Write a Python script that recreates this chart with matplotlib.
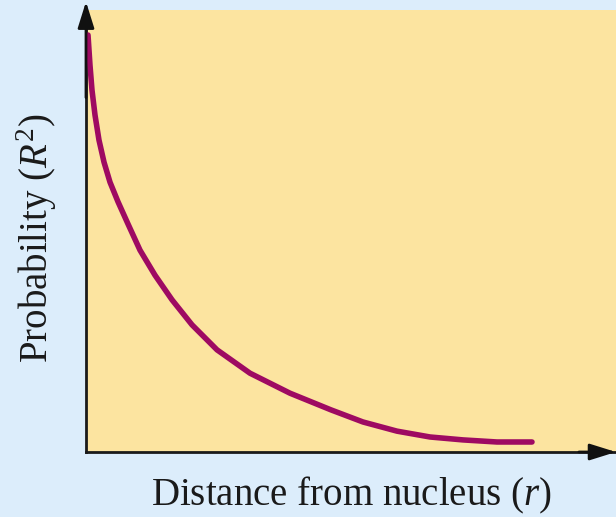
import matplotlib
matplotlib.use("Agg")
import matplotlib.pyplot as plt

distance = [0.038, 0.075, 0.113, 0.170, 0.245, 0.340, 0.453, 0.604, 0.792, 1.019,
            1.302, 1.623, 2.000, 2.472, 3.094, 3.849, 4.623, 5.226, 5.868, 6.491,
            7.113, 7.755, 8.415]
probability = [1.000, 0.928, 0.868, 0.808, 0.748, 0.695, 0.647, 0.600, 0.547, 0.484,
               0.424, 0.365, 0.305, 0.245, 0.189, 0.141, 0.101, 0.072, 0.050, 0.036,
               0.029, 0.024, 0.024]

x_label = "Distance from nucleus ($r$)"
y_label = "Probability ($R^2$)"

plt.rcParams["mathtext.fontset"] = "custom"
plt.rcParams["mathtext.rm"] = "Liberation Serif"
plt.rcParams["mathtext.it"] = "Liberation Serif:italic"

fig = plt.figure(figsize=(6.16, 5.17), dpi=100)
fig.patch.set_facecolor("#DCEDFB")

ax = fig.add_axes([86 / 616, 65 / 517, 530 / 616, 442 / 517])
ax.set_facecolor("#FCE4A0")
ax.set_xlim(0, 10)
ax.set_ylim(0, 1.06)

ax.plot(distance, probability, color="#9E0A62", lw=4.0,
        solid_capstyle="round", solid_joinstyle="round", zorder=3)

for side in ("top", "right"):
    ax.spines[side].set_visible(False)
for side in ("left", "bottom"):
    ax.spines[side].set_color("#1a1a1a")
    ax.spines[side].set_linewidth(2.0)
ax.set_xticks([])
ax.set_yticks([])

# Arrowheads at the ends of both axes
arrow = dict(arrowstyle="-|>,head_length=1.6,head_width=0.5", color="#111111",
             lw=2.0, shrinkA=0, shrinkB=0)
ax.annotate("", xy=(0, 1.08), xytext=(0, 0.85), xycoords="data",
            arrowprops=arrow, annotation_clip=False)
ax.annotate("", xy=(10.0, 0), xytext=(9.3, 0), xycoords="data",
            arrowprops=arrow, annotation_clip=False)

fig.text(351 / 616, 1 - 505 / 517, x_label, ha="center", va="baseline",
         fontsize=28, family="Liberation Serif", color="#1a1a1a")
fig.text(37 / 616, 1 - 238 / 517, y_label, ha="center", va="center",
         rotation=90, fontsize=28, family="Liberation Serif", color="#1a1a1a")

fig.savefig("out.png", dpi=100, facecolor=fig.get_facecolor())
